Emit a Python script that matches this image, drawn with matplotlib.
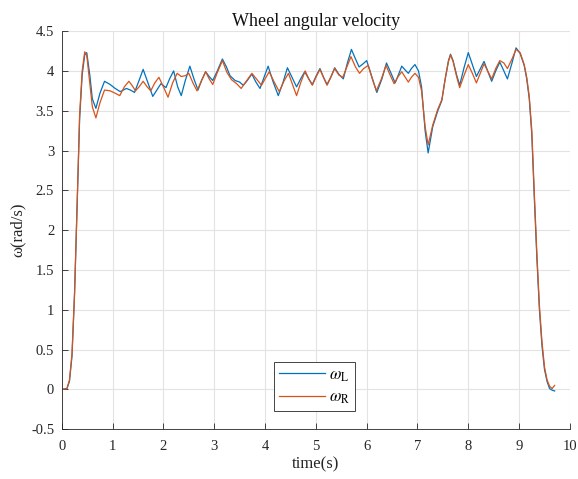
import numpy as np
import matplotlib.pyplot as plt

plt.rcParams['font.family'] = ['Liberation Serif', 'DejaVu Serif']
plt.rcParams['mathtext.fontset'] = 'stix'

# left wheel
t_L = [0.0, 0.1, 0.15, 0.2, 0.25, 0.3, 0.35, 0.4, 0.45, 0.49, 0.55, 0.6, 0.67,
       0.75, 0.84, 0.95, 1.05, 1.15, 1.27, 1.35, 1.43, 1.52, 1.6, 1.7, 1.79,
       1.87, 1.95, 2.05, 2.12, 2.2, 2.28, 2.35, 2.43, 2.52, 2.6, 2.68, 2.75,
       2.83, 2.9, 2.97, 3.06, 3.16, 3.24, 3.31, 3.41, 3.5, 3.57, 3.65, 3.74,
       3.82, 3.9, 3.98, 4.06, 4.16, 4.26, 4.35, 4.44, 4.53, 4.62, 4.7, 4.78,
       4.86, 4.93, 5.0, 5.08, 5.15, 5.22, 5.3, 5.37, 5.45, 5.54, 5.62, 5.7,
       5.78, 5.85, 5.93, 6.0, 6.1, 6.2, 6.3, 6.39, 6.48, 6.56, 6.63, 6.69,
       6.76, 6.82, 6.88, 6.95, 7.02, 7.08, 7.15, 7.21, 7.3, 7.4, 7.48, 7.54,
       7.61, 7.65, 7.7, 7.77, 7.83, 7.92, 8.0, 8.08, 8.16, 8.24, 8.31, 8.38,
       8.46, 8.54, 8.62, 8.7, 8.77, 8.86, 8.94, 9.02, 9.1, 9.15, 9.2, 9.25,
       9.3, 9.35, 9.4, 9.45, 9.5, 9.55, 9.6, 9.65, 9.7]
w_L = [0.0, 0.01, 0.1, 0.42, 1.2, 2.3, 3.4, 3.95, 4.2, 4.23, 3.95, 3.65, 3.53,
       3.72, 3.87, 3.83, 3.78, 3.74, 3.78, 3.76, 3.73, 3.88, 4.02, 3.84, 3.68,
       3.76, 3.84, 3.79, 3.9, 4.0, 3.8, 3.69, 3.88, 4.06, 3.9, 3.76, 3.88,
       3.99, 3.93, 3.88, 4.0, 4.15, 4.05, 3.94, 3.88, 3.86, 3.82, 3.88, 3.96,
       3.86, 3.78, 3.92, 4.06, 3.86, 3.69, 3.85, 4.04, 3.92, 3.8, 3.9, 3.99,
       3.9, 3.83, 3.93, 4.03, 3.92, 3.83, 3.93, 4.04, 3.96, 3.9, 4.1, 4.27,
       4.15, 4.05, 4.09, 4.13, 3.93, 3.73, 3.9, 4.1, 3.97, 3.85, 3.96, 4.06,
       4.01, 3.97, 4.03, 4.08, 4.0, 3.8, 3.25, 2.97, 3.3, 3.5, 3.63, 3.88,
       4.13, 4.21, 4.13, 3.95, 3.82, 4.05, 4.23, 4.08, 3.93, 4.03, 4.12, 4.0,
       3.87, 4.0, 4.11, 4.0, 3.9, 4.1, 4.29, 4.22, 4.07, 3.9, 3.65, 3.2,
       2.4, 1.65, 1.0, 0.55, 0.25, 0.1, 0.01, -0.01, -0.02]

# right wheel
t_R = [0.0, 0.1, 0.15, 0.2, 0.25, 0.3, 0.35, 0.4, 0.45, 0.49, 0.55, 0.6, 0.67,
       0.75, 0.84, 0.95, 1.05, 1.14, 1.23, 1.32, 1.38, 1.45, 1.52, 1.6, 1.68,
       1.75, 1.83, 1.91, 2.0, 2.09, 2.18, 2.27, 2.35, 2.43, 2.5, 2.58, 2.66,
       2.75, 2.83, 2.9, 2.97, 3.06, 3.16, 3.25, 3.34, 3.44, 3.53, 3.64, 3.74,
       3.83, 3.93, 4.0, 4.08, 4.18, 4.28, 4.37, 4.46, 4.54, 4.62, 4.7, 4.79,
       4.86, 4.93, 5.0, 5.08, 5.15, 5.22, 5.3, 5.37, 5.45, 5.53, 5.61, 5.69,
       5.78, 5.86, 5.94, 6.03, 6.11, 6.19, 6.29, 6.38, 6.46, 6.54, 6.62, 6.69,
       6.76, 6.82, 6.88, 6.95, 7.02, 7.08, 7.15, 7.21, 7.3, 7.4, 7.48, 7.54,
       7.61, 7.65, 7.7, 7.77, 7.83, 7.92, 8.0, 8.08, 8.16, 8.24, 8.31, 8.38,
       8.46, 8.54, 8.62, 8.7, 8.77, 8.86, 8.94, 9.02, 9.1, 9.15, 9.2, 9.25,
       9.3, 9.35, 9.4, 9.45, 9.5, 9.55, 9.6, 9.65, 9.7]
w_R = [0.0, 0.01, 0.12, 0.45, 1.2, 2.3, 3.45, 4.0, 4.24, 4.2, 3.85, 3.55, 3.41,
       3.6, 3.76, 3.75, 3.72, 3.69, 3.8, 3.87, 3.82, 3.75, 3.8, 3.87, 3.8,
       3.75, 3.85, 3.92, 3.8, 3.67, 3.85, 3.97, 3.93, 3.94, 3.97, 3.85, 3.75,
       3.88, 3.99, 3.9, 3.83, 3.98, 4.13, 3.98, 3.89, 3.84, 3.78, 3.88, 3.97,
       3.9, 3.82, 3.9, 3.99, 3.86, 3.74, 3.87, 3.97, 3.83, 3.69, 3.85, 4.0,
       3.9, 3.82, 3.92, 4.02, 3.92, 3.82, 3.93, 4.03, 3.95, 3.92, 4.05, 4.18,
       4.05, 3.97, 4.03, 4.07, 3.9, 3.75, 3.9, 4.07, 3.95, 3.84, 3.93, 3.99,
       3.92, 3.86, 3.92, 3.97, 3.92, 3.75, 3.3, 3.07, 3.32, 3.52, 3.64, 3.88,
       4.12, 4.2, 4.12, 3.93, 3.79, 3.95, 4.08, 3.97, 3.85, 3.98, 4.09, 4.0,
       3.9, 4.03, 4.13, 4.1, 4.03, 4.15, 4.27, 4.23, 4.08, 3.92, 3.68, 3.25,
       2.45, 1.7, 1.05, 0.6, 0.28, 0.12, 0.04, 0.01, 0.05]

x_ticks = list(range(0, 11))
y_ticks = [-0.5, 0, 0.5, 1, 1.5, 2, 2.5, 3, 3.5, 4, 4.5]
y_labels = ['-0.5', '0', '0.5', '1', '1.5', '2', '2.5', '3', '3.5', '4', '4.5']

fig = plt.figure(figsize=(5.78, 4.79), dpi=100)
ax = fig.add_axes([0.107, 0.104, 0.879, 0.831])

ax.plot(t_L, w_L, color='#0072BD', lw=0.9, label=r'$\omega_\mathrm{L}$')
ax.plot(t_R, w_R, color='#D95319', lw=0.9, label=r'$\omega_\mathrm{R}$')

ax.set_xlim(0, 10)
ax.set_ylim(-0.5, 4.5)
ax.set_xticks(x_ticks)
ax.set_yticks(y_ticks)
ax.set_yticklabels(y_labels)
ax.grid(True, color='#e3e3e3', lw=0.8)
ax.set_axisbelow(True)
ax.tick_params(direction='in', length=4, width=0.6, colors='#262626',
               labelsize=10.5, labelcolor='#262626')
ax.tick_params(axis='x', pad=7.5)
ax.tick_params(axis='y', pad=5.5)
for pos in ['top', 'right']:
    ax.spines[pos].set_visible(False)
for pos in ['left', 'bottom']:
    ax.spines[pos].set_color('#262626')
    ax.spines[pos].set_linewidth(0.6)

ax.set_title('Wheel angular velocity', fontsize=13, color='#111111', pad=4)
ax.set_xlabel('time(s)', fontsize=12, color='#262626', labelpad=3)
ax.set_ylabel('ω(rad/s)', fontsize=12, color='#262626', labelpad=4)

leg = ax.legend(loc='lower center', bbox_to_anchor=(0.497, 0.025),
                fontsize=12, handlelength=2.75, handletextpad=0.25,
                labelspacing=0.35, fancybox=False, edgecolor='#262626',
                framealpha=1, borderpad=0.3)
leg.get_frame().set_linewidth(0.6)

fig.savefig('out.png', dpi=100)
